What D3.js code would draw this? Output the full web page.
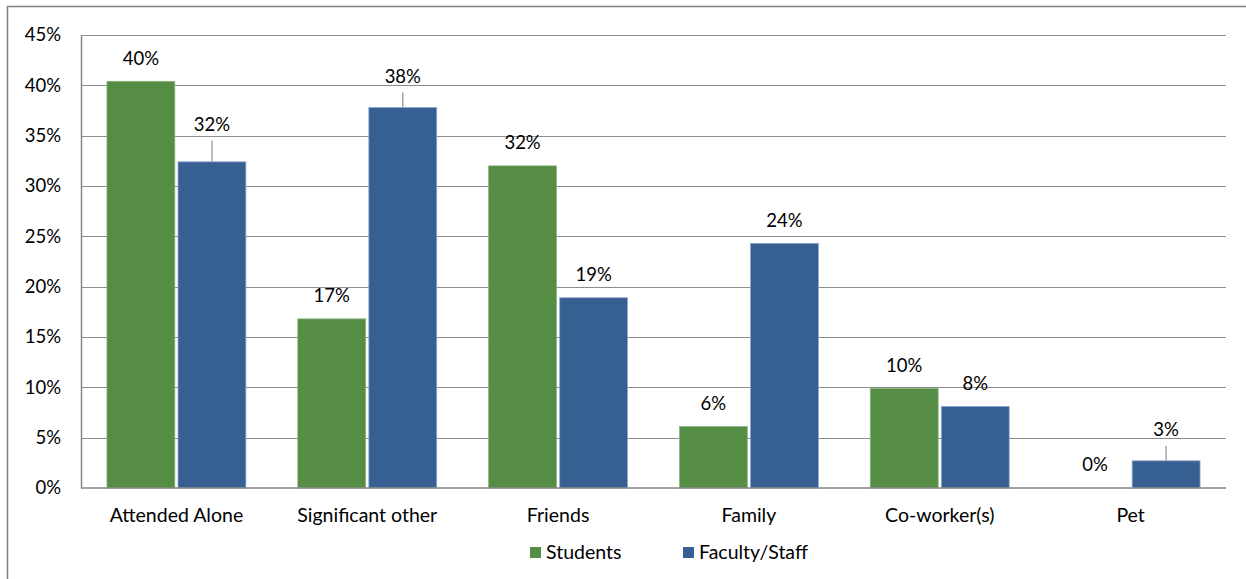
<!DOCTYPE html>
<html>
<head>
<meta charset="utf-8">
<script src="https://cdn.jsdelivr.net/npm/d3@7"></script>
<style>
	body { margin:0; background:#fff; }
	svg text { font-family: Lato, "Open Sans", sans-serif; fill:#000; }
</style>
</head>
<body>
<svg id="chart" width="1246" height="579"></svg>
<script>
var categories = ["Attended Alone", "Significant other", "Friends", "Family", "Co-worker(s)", "Pet"],
	seriesNames = ["Students", "Faculty/Staff"],
	students = [40.4, 16.8, 32.0, 6.1, 9.9, 0],
	facultyStaff = [32.4, 37.8, 18.9, 24.3, 8.1, 2.7],
	yTicks = [0, 5, 10, 15, 20, 25, 30, 35, 40, 45];

var colors = ["#558d45", "#366092"],
	width = 1246, height = 579,
	margin = {top:35, right:20, bottom:91, left:81};

var svg = d3.select("#chart");

// outer frame (only top and left visible)
svg.append("path")
	.attr("d", "M7.5,600 V6.5 H1246")
	.attr("fill", "none")
	.attr("stroke", "#7f7f7f")
	.attr("stroke-width", 1.5);

var x0 = d3.scaleBand()
	.domain(categories)
	.range([margin.left, width - margin.right])
	.paddingInner(0.272)
	.paddingOuter(0.136);

var x1 = d3.scaleBand()
	.domain(seriesNames)
	.range([0, x0.bandwidth()])
	.paddingInner(0.045);

var y = d3.scaleLinear()
	.domain([0, 45])
	.range([height - margin.bottom, margin.top]);

// grid
svg.append("g")
	.selectAll("line")
	.data(yTicks.filter(function(d){ return d > 0; }))
	.enter().append("line")
	.attr("x1", margin.left).attr("x2", width - margin.right)
	.attr("y1", function(d){ return Math.round(y(d)) + 0.5; })
	.attr("y2", function(d){ return Math.round(y(d)) + 0.5; })
	.attr("stroke", "#8c8c8c")
	.attr("stroke-width", 1);

// y axis
var yAxis = svg.append("g")
	.attr("transform", "translate(" + margin.left + ",0)")
	.call(d3.axisLeft(y).tickValues(yTicks).tickSize(0).tickPadding(20)
		.tickFormat(function(d){ return d + "%"; }));
yAxis.select(".domain").attr("stroke", "#868686").attr("stroke-width", 1.5);
yAxis.attr("font-size", null).attr("font-family", null);
yAxis.selectAll("text").style("font-size", "18.5px");

var rows = categories.map(function(c, i){
	return {cat:c, values:[students[i], facultyStaff[i]]};
});

var groups = svg.append("g").selectAll("g")
	.data(rows)
	.enter().append("g")
	.attr("transform", function(d){ return "translate(" + x0(d.cat) + ",0)"; });

groups.selectAll("rect")
	.data(function(d){ return d.values.map(function(v, j){ return {s:seriesNames[j], v:v, j:j}; }); })
	.enter().append("rect")
	.attr("x", function(d){ return x1(d.s); })
	.attr("width", x1.bandwidth())
	.attr("y", function(d){ return y(d.v); })
	.attr("height", function(d){ return y(0) - y(d.v); })
	.attr("fill", function(d){ return colors[d.j]; })
	.attr("stroke", function(d){ return d.v > 0 ? (d.j == 0 ? "#8cb37f" : "#8fa8cc") : "none"; })
	.attr("stroke-width", 0.8);

// x axis
var xAxis = svg.append("g")
	.attr("transform", "translate(0," + y(0) + ")")
	.call(d3.axisBottom(x0).tickSize(0).tickPadding(20).tickSizeOuter(0));
xAxis.select(".domain").attr("stroke", "#868686").attr("stroke-width", 1.5)
	.attr("d", "M" + margin.left + ",0H" + (width - margin.right));
xAxis.attr("font-size", null).attr("font-family", null);
xAxis.selectAll("text").style("font-size", "19.5px");

// data labels, some moved up with leader lines (Excel style)
var lifted = {"Attended Alone|Faculty/Staff":14, "Significant other|Faculty/Staff":8, "Pet|Faculty/Staff":8};

groups.each(function(row){
	var g = d3.select(this);
	row.values.forEach(function(v, j){
		var cx = x1(seriesNames[j]) + x1.bandwidth() / 2,
			lift = lifted[row.cat + "|" + seriesNames[j]] || 0,
			ly = y(v) - 23 - lift;
		if (lift > 0) {
			g.append("line")
				.attr("x1", cx).attr("x2", cx)
				.attr("y1", ly + 16).attr("y2", y(v))
				.attr("stroke", "#a6a6a6").attr("stroke-width", 1.5);
		}
		g.append("text")
			.attr("x", cx).attr("y", ly)
			.attr("text-anchor", "middle")
			.attr("dy", "0.35em")
			.style("font-size", "18.5px")
			.text(Math.round(v) + "%");
	});
});

// legend
var legend = svg.append("g").attr("transform", "translate(530,552)");
var legX = [0, 153];
seriesNames.forEach(function(n, i){
	legend.append("rect")
		.attr("x", legX[i]).attr("y", -5)
		.attr("width", 11).attr("height", 11)
		.attr("fill", colors[i]);
	legend.append("text")
		.attr("x", legX[i] + 16).attr("y", 0)
		.attr("dy", "0.35em")
		.style("font-size", "19.5px")
		.text(n);
});
</script>
</body>
</html>
